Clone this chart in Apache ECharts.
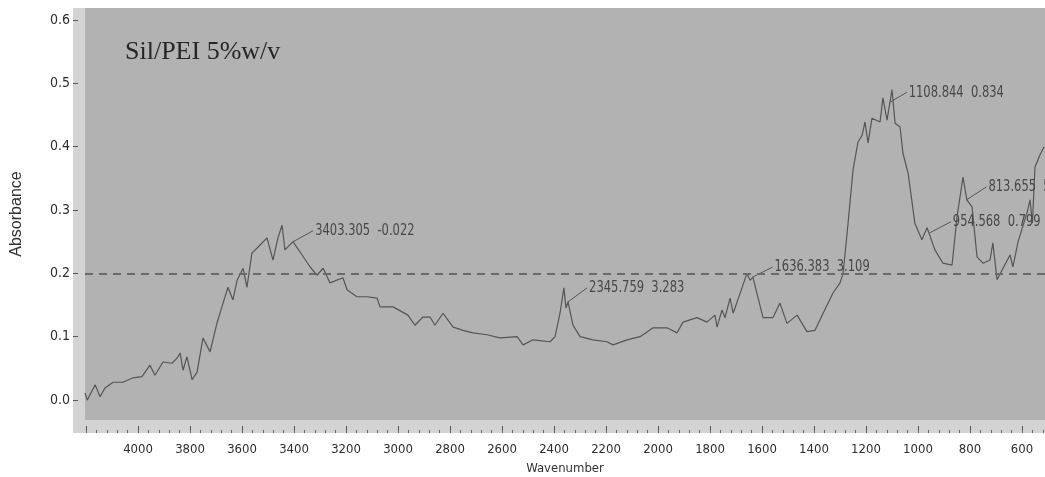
<!DOCTYPE html>
<html>
<head>
<meta charset="utf-8">
<script src="https://cdn.jsdelivr.net/npm/echarts@6/dist/echarts.min.js"></script>
<style>
html,body{margin:0;padding:0;background:#fff;}
#c{width:1045px;height:477px;}
</style>
</head>
<body>
<div id="c"></div>
<script>
// Spectrum: wavenumber (cm-1) and absorbance
const wavenumbers = [4204,4195,4165,4146,4127,4096,4058,4019,3985,3954,3935,3904,3869,3850,3838,3827,3812,3792,3773,3750,3723,3696,3673,3654,3635,3619,3596,3581,3562,3542,3504,3481,3462,3446,3435,3404,3369,3338,3312,3288,3262,3212,3196,3158,3119,3081,3069,3019,2962,2935,2904,2877,2858,2827,2788,2750,2712,2658,2608,2542,2519,2481,2415,2396,2377,2362,2354,2346,2327,2300,2250,2196,2173,2119,2069,2019,1965,1927,1904,1850,1812,1781,1773,1754,1742,1723,1711,1677,1658,1646,1635,1620,1596,1558,1531,1504,1465,1427,1396,1365,1327,1300,1288,1269,1250,1231,1215,1204,1192,1177,1146,1135,1119,1100,1088,1069,1058,1038,1012,985,965,935,904,869,850,827,812,792,773,750,723,712,696,677,646,635,615,581,569,560,550,531,515];
const absorbance = [0.011,0.000,0.024,0.005,0.019,0.028,0.028,0.035,0.037,0.055,0.039,0.060,0.058,0.066,0.074,0.047,0.068,0.032,0.044,0.098,0.076,0.122,0.153,0.178,0.158,0.189,0.208,0.178,0.232,0.240,0.256,0.221,0.256,0.276,0.237,0.250,0.229,0.210,0.197,0.208,0.185,0.193,0.174,0.163,0.163,0.161,0.147,0.147,0.134,0.118,0.131,0.131,0.118,0.137,0.115,0.110,0.106,0.103,0.098,0.100,0.087,0.095,0.092,0.100,0.137,0.177,0.145,0.155,0.118,0.100,0.095,0.092,0.087,0.095,0.100,0.114,0.114,0.106,0.123,0.130,0.123,0.134,0.115,0.142,0.130,0.161,0.137,0.177,0.200,0.189,0.194,0.169,0.130,0.130,0.153,0.121,0.134,0.108,0.110,0.137,0.169,0.185,0.200,0.279,0.363,0.407,0.418,0.439,0.406,0.445,0.439,0.477,0.442,0.490,0.437,0.431,0.390,0.358,0.279,0.253,0.272,0.237,0.216,0.213,0.289,0.352,0.316,0.305,0.226,0.216,0.221,0.248,0.190,0.205,0.229,0.210,0.250,0.295,0.316,0.279,0.368,0.387,0.400];

// Peak annotations
const peakWn = [3403.305, 2345.759, 1636.383, 1108.844, 954.568, 813.655];
const peakAbs = [0.250, 0.155, 0.194, 0.470, 0.264, 0.316];
const peakLabels = ['3403.305  -0.022', '2345.759  3.283', '1636.383  3.109', '1108.844  0.834', '954.568  0.799', '813.655  5'];

// Axis ticks
const xTickLabels = [4000,3800,3600,3400,3200,3000,2800,2600,2400,2200,2000,1800,1600,1400,1200,1000,800,600];
const xMajorTicks = [4200,4000,3800,3600,3400,3200,3000,2800,2600,2400,2200,2000,1800,1600,1400,1200,1000,800,600];
const xMinorTicks = [];
for (let w = 4200; w >= 520; w -= 40) xMinorTicks.push(w);
const yTicks = [0, 0.1, 0.2, 0.3, 0.4, 0.5, 0.6];
const refLine = 0.2;

// Styles / layout (not data)
const labelOffsets = [[20,-11],[19,-14],[20,-10],[17,-10],[21,-11],[20,-13]];
const NARROW = '"DejaVu Sans Condensed","DejaVu Sans",sans-serif';

const chart = echarts.init(document.getElementById('c'), null, {renderer: 'canvas'});

const series = [{
  type: 'line',
  xAxisIndex: 0,
  data: wavenumbers.map((w, i) => [w, absorbance[i]]),
  showSymbol: false,
  symbol: 'none',
  lineStyle: {color: '#555', width: 1.2},
  animation: false,
  z: 3,
  markLine: {
    silent: true,
    symbol: 'none',
    label: {show: false},
    lineStyle: {color: '#6a6a6a', width: 2, type: [8, 6]},
    data: [{yAxis: refLine}],
    animation: false
  }
}, {
  type: 'custom',
  xAxisIndex: 0,
  data: peakWn.map((w, i) => [w, peakAbs[i]]),
  animation: false,
  z: 4,
  renderItem: function (params, api) {
    const p = api.coord([api.value(0), api.value(1)]);
    const off = labelOffsets[params.dataIndex];
    const ex = p[0] + off[0], ey = p[1] + off[1];
    return {
      type: 'group',
      children: [{
        type: 'line',
        shape: {x1: p[0], y1: p[1], x2: ex, y2: ey},
        style: {stroke: '#555', lineWidth: 1}
      }, {
        type: 'text',
        x: ex + 2,
        y: ey,
        scaleX: 0.8,
        style: {
          text: peakLabels[params.dataIndex],
          fill: '#474747',
          font: '16px ' + NARROW,
          verticalAlign: 'middle',
          align: 'left'
        }
      }]
    };
  }
}];

chart.setOption({
  backgroundColor: '#ffffff',
  animation: false,
  grid: {
    left: 85, right: 0, top: 8, bottom: 57,
    outerBoundsMode: 'none',
    containLabel: false,
    show: true, backgroundColor: '#b2b2b2', borderWidth: 0
  },
  graphic: [{
    type: 'rect', z: -1,
    shape: {x: 73, y: 8, width: 12, height: 425},
    style: {fill: '#d3d3d3'}
  }, {
    type: 'rect', z: -1,
    shape: {x: 85, y: 420, width: 960, height: 13},
    style: {fill: '#d3d3d3'}
  }, {
    type: 'text',
    x: 125, y: 52,
    style: {
      text: 'Sil/PEI 5%w/v',
      font: '26px "Liberation Serif","Times New Roman",serif',
      fill: '#262626',
      verticalAlign: 'middle'
    }
  }],
  xAxis: [{
    type: 'value',
    inverse: true,
    min: 511.5, max: 4204,
    position: 'bottom',
    offset: 13,
    name: 'Wavenumber',
    nameLocation: 'middle',
    nameGap: 29,
    nameTextStyle: {color: '#333', fontSize: 13, fontFamily: NARROW},
    axisLine: {show: false, onZero: false},
    axisTick: {show: true, inside: true, length: 7, customValues: xMajorTicks, lineStyle: {color: '#555', width: 1}},
    axisLabel: {show: true, customValues: xTickLabels, margin: 10, color: '#2e2e2e', fontSize: 13, fontFamily: NARROW,
      formatter: v => String(v)},
    splitLine: {show: false}
  }, {
    type: 'value',
    inverse: true,
    min: 511.5, max: 4204,
    position: 'bottom',
    offset: 13,
    axisLine: {show: false, onZero: false},
    axisTick: {show: true, inside: true, length: 3, customValues: xMinorTicks, lineStyle: {color: '#666', width: 1}},
    axisLabel: {show: false},
    splitLine: {show: false}
  }],
  yAxis: {
    type: 'value',
    min: -0.0316, max: 0.619,
    position: 'left',
    offset: 12,
    name: 'Absorbance',
    nameLocation: 'middle',
    nameGap: 48,
    nameTextStyle: {color: '#333', fontSize: 16, fontFamily: '"Liberation Sans",Arial,sans-serif'},
    axisLine: {show: false, onZero: false},
    axisTick: {show: true, inside: true, length: 5, customValues: yTicks, lineStyle: {color: '#555', width: 1}},
    axisLabel: {show: true, customValues: yTicks, margin: 3, color: '#2e2e2e', fontSize: 14, fontFamily: NARROW,
      formatter: v => v.toFixed(1)},
    splitLine: {show: false}
  },
  series: series
});
</script>
</body>
</html>
